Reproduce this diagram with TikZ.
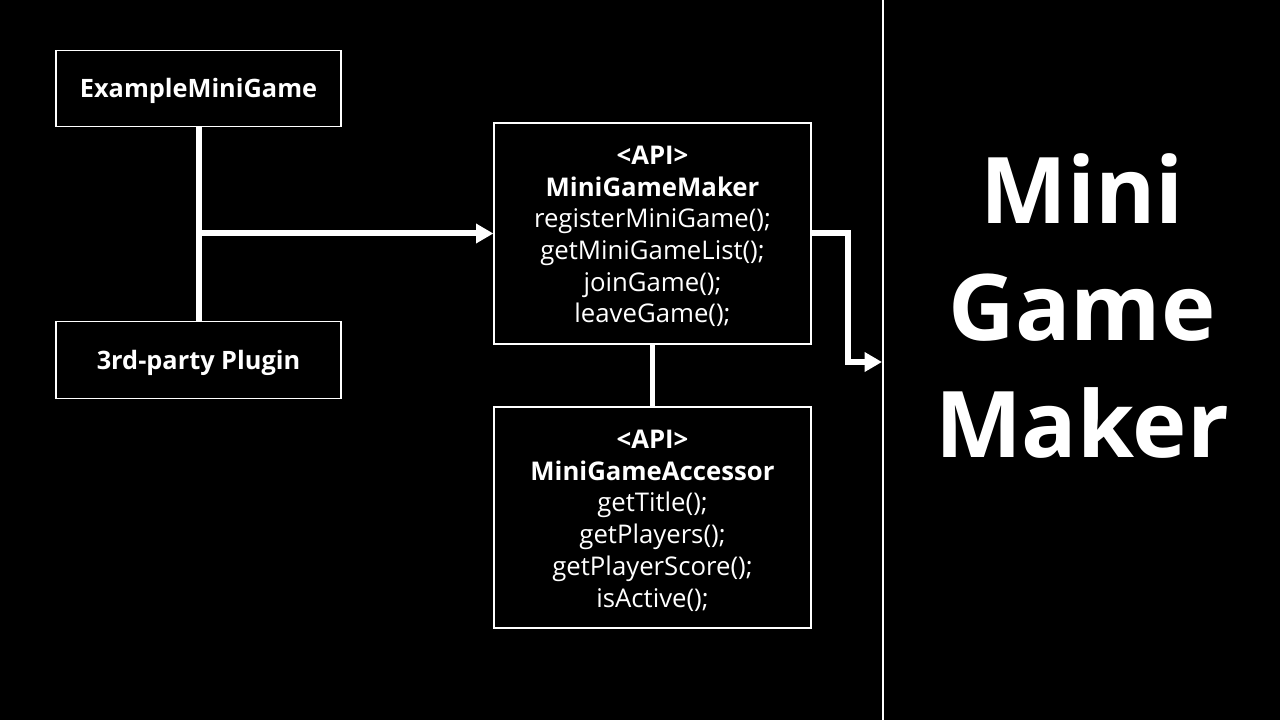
\documentclass[tikz,border=0pt]{standalone}
\usepackage{fontspec}
\setmainfont{Open Sans}
\usetikzlibrary{arrows.meta,calc}
\tikzset{
  box/.style={draw=white, line width=0.9pt, text=white, align=center, inner sep=0pt},
  smallbox/.style={box, minimum width=213.75pt, minimum height=57.5pt, text height=14pt, text depth=0pt, font=\bfseries\fontsize{19}{22}\selectfont},
  apibox/.style={box, minimum width=237.75pt, minimum height=165.75pt, font=\fontsize{19.3}{23.8}\selectfont},
  conn/.style={draw=white, line width=4.5pt},
  arr/.style={conn, -{Triangle[length=13pt,width=14pt]}},
  bigtext/.style={text=white, font=\bfseries\fontsize{69}{88}\selectfont, align=center}
}
\begin{document}
\begin{tikzpicture}[x=0.75pt,y=-0.75pt]
\fill[black] (0,0) rectangle (1280,720);
\useasboundingbox (0,0) rectangle (1280,720);
\draw[white, line width=1.2pt] (883,0) -- (883,720);
\node[smallbox] (emg) at (198.5,88.5) {ExampleMiniGame};
\node[smallbox] (plug) at (198.5,360) {3rd-party Plugin};
\node[apibox] (maker) at (652.5,233.5) {\\[-5.5pt]\textbf{<API>}\\\textbf{MiniGameMaker}\\registerMiniGame();\\getMiniGameList();\\joinGame();\\leaveGame();};
\node[apibox] (acc) at (652.5,517.5) {\\[-5.5pt]\textbf{<API>}\\\textbf{MiniGameAccessor}\\getTitle();\\getPlayers();\\getPlayerScore();\\isActive();};
\node[bigtext] (title) at (1082,306) {Mini\\Game\\Maker};
\coordinate (j) at (emg.south |- maker.west);
\coordinate (t) at (882,362);
\draw[conn] (emg.south) -- (plug.north);
\draw[arr] (j) -- (maker.west);
\draw[arr] (maker.east) -- ++(36,0) |- (t);
\draw[conn, line width=3.8pt] (maker.south) -- (acc.north);
\end{tikzpicture}
\end{document}
